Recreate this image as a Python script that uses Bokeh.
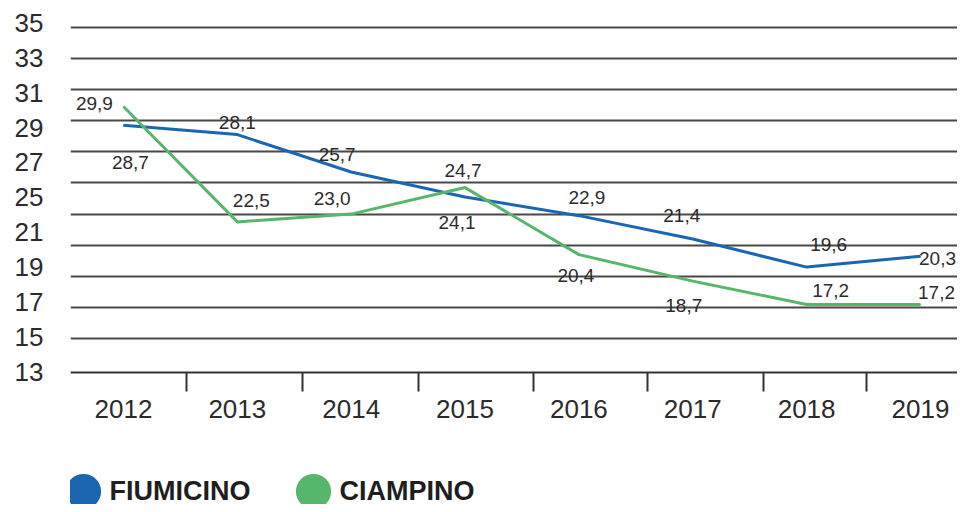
import numpy as np
from bokeh.plotting import figure
from bokeh.models import ColumnDataSource, FixedTicker, Range1d, Legend, LegendItem
from bokeh.core.properties import value
from bokeh.embed import file_html
from bokeh.resources import INLINE

# ---------------- data ----------------
years = [2012, 2013, 2014, 2015, 2016, 2017, 2018, 2019]
fiumicino = [28.7, 28.1, 25.7, 24.1, 22.9, 21.4, 19.6, 20.3]
ciampino = [29.9, 22.5, 23.0, 24.7, 20.4, 18.7, 17.2, 17.2]
series_names = ["FIUMICINO", "CIAMPINO"]
grid_values = [35, 33, 31, 29, 27, 25, 23, 21, 19, 17, 15]
y_tick_labels = ["35", "33", "31", "29", "27", "25", "21", "19", "17", "15", "13"]

# ---------------- style / layout ----------------
BLUE = "#1a66b0"
GREEN = "#56b66c"
TXT = "#2b2b2b"
FONT = "Liberation Sans"
fiu_dx = [7, 0, -14, -8, 8, -11, 22, 17]
fiu_dy = [37, -12, -17, 26, -18, -24, -23, 2]
cia_dx = [-29, 14, -19, -2, -3, -9, 24, 16]
cia_dy = [-3, -21, -16, -17, 21, 24, -14, -12]
year_boundaries = [2012.55, 2013.57, 2014.59, 2015.6, 2016.6, 2017.62, 2018.53]
label_pos = [round(v, 3) for v in np.linspace(35.26, 12.9, len(y_tick_labels))]
AXIS_BASE = 12.83   # where the x axis line sits (data units)


def fmt(v):
    return f"{v:.1f}".replace(".", ",")


p = figure(width=957, height=504, output_backend="svg", toolbar_location=None,
           x_range=Range1d(2011.535, 2019.325), y_range=Range1d(4.37, 36.06),
           min_border_left=70, min_border_right=0, min_border_top=10,
           min_border_bottom=0)
p.outline_line_color = None
p.background_fill_color = "white"
p.border_fill_color = "white"

# grid
p.xgrid.visible = False
p.ygrid.ticker = FixedTicker(ticks=grid_values)
p.ygrid.grid_line_color = "#484848"
p.ygrid.grid_line_width = 2

# y axis (labels only)
p.yaxis.ticker = FixedTicker(ticks=label_pos, minor_ticks=[])
p.yaxis.major_label_overrides = {lp: lab for lp, lab in zip(label_pos, y_tick_labels)}
p.yaxis.axis_line_color = None
p.yaxis.major_tick_line_color = None
p.yaxis.minor_tick_line_color = None
p.yaxis.major_tick_out = 0
p.yaxis.major_tick_in = 0
p.yaxis.major_label_standoff = 27
p.yaxis.major_label_text_font = FONT
p.yaxis.major_label_text_font_size = "26px"
p.yaxis.major_label_text_color = TXT

# x axis, pinned at the base value
p.xaxis.fixed_location = AXIS_BASE
p.xaxis.ticker = FixedTicker(ticks=years, minor_ticks=year_boundaries)
p.xaxis.major_label_overrides = {y: str(y) for y in years}
p.xaxis.axis_line_color = "#333333"
p.xaxis.axis_line_width = 2
p.xaxis.major_tick_out = 0
p.xaxis.major_tick_in = 0
p.xaxis.major_tick_line_color = None
p.xaxis.minor_tick_out = 19
p.xaxis.minor_tick_in = 0
p.xaxis.minor_tick_line_color = "#333333"
p.xaxis.minor_tick_line_width = 2
p.xaxis.major_label_standoff = 8
p.xaxis.major_label_text_font = FONT
p.xaxis.major_label_text_font_size = "26px"
p.xaxis.major_label_text_color = TXT

# lines
src_f = ColumnDataSource(dict(x=years, y=fiumicino, t=[fmt(v) for v in fiumicino],
                              dx=fiu_dx, dy=fiu_dy))
src_c = ColumnDataSource(dict(x=years, y=ciampino, t=[fmt(v) for v in ciampino],
                              dx=cia_dx, dy=cia_dy))
p.line("x", "y", source=src_f, line_color=BLUE, line_width=3)
p.line("x", "y", source=src_c, line_color=GREEN, line_width=3)

# legend glyphs: 1px screen-unit ellipses hidden under the lines
r_f = p.ellipse("x", "y", source=src_f, width=1, height=1,
                width_units="screen", height_units="screen",
                fill_color=BLUE, line_color=None)
r_c = p.ellipse("x", "y", source=src_c, width=1, height=1,
                width_units="screen", height_units="screen",
                fill_color=GREEN, line_color=None)

for src in (src_f, src_c):
    p.text("x", "y", text="t", source=src, x_offset="dx", y_offset="dy",
           text_align="center", text_baseline="middle",
           text_font=value(FONT), text_font_size="19px", text_color=TXT)

legend = Legend(items=[LegendItem(label=series_names[0], renderers=[r_f]),
                       LegendItem(label=series_names[1], renderers=[r_c])],
                orientation="horizontal", location=(-9.5, -9),
                glyph_width=44, glyph_height=44, label_standoff=5, spacing=40,
                padding=0, margin=0, border_line_color=None,
                background_fill_alpha=0,
                label_text_font=FONT, label_text_font_style="bold",
                label_text_font_size="27px", label_text_color="#1e1e1e",
                label_text_baseline="middle")
p.add_layout(legend, "center")

open("out.html", "w").write(file_html(p, INLINE))
